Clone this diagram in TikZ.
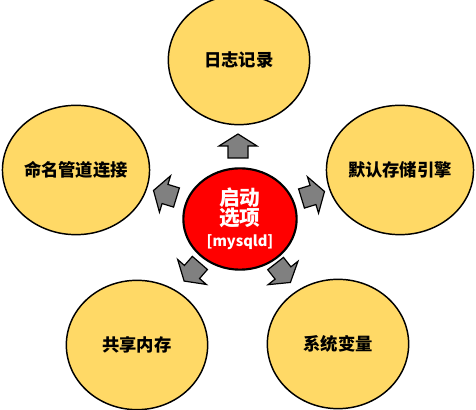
\documentclass[tikz,border=0pt]{standalone}
\usepackage{fontspec}
\newfontfamily\cjk{Noto Sans CJK SC}
\usetikzlibrary{shapes.geometric}
\definecolor{optyellow}{RGB}{255,217,102}
\definecolor{optred}{RGB}{255,0,0}
\definecolor{optgray}{RGB}{128,128,128}

\begin{document}
\begin{tikzpicture}[x=0.75pt, y=0.75pt,
    leaf/.style={ellipse, draw=black, line width=1.1pt, fill=optyellow,
      minimum width=106pt, minimum height=97pt, inner sep=0pt,
      font=\cjk\bfseries\fontsize{13}{15}\selectfont},
    hub/.style={ellipse, draw=black, line width=1.6pt, fill=optred,
      minimum width=85pt, minimum height=76pt, inner sep=0pt,
      text=white, align=center, font=\cjk\bfseries\fontsize{15.5}{17}\selectfont},
    blockarrow/.pic={
      \draw[black, line width=0.9pt, fill=optgray, line join=miter]
        (-12,-10) -- (0,-10) -- (0,-19) -- (12,0) -- (0,19) -- (0,10) -- (-12,10) -- cycle;
    }]
  \useasboundingbox (0,0) rectangle (476,410);

  % centre
  \node[hub] (opts) at (240,191) {启动\\[-2pt]选项\\[-1pt]{\fontsize{11}{12}\selectfont [mysqld]}};

  % options around it
  \node[leaf] (log)   at (239,350) {日志记录};
  \node[leaf] (pipe)  at (76,240)  {命名管道连接};
  \node[leaf] (eng)   at (400,240) {默认存储引擎};
  \node[leaf] (shm)   at (137,65)  {共享内存};
  \node[leaf] (vars)  at (338,66)  {系统变量};

  % block arrows
  \pic[rotate=90]  at (238,264) {blockarrow};
  \pic[rotate=163] at (165,216) {blockarrow};
  \pic[rotate=17]  at (313,215) {blockarrow};
  \pic[rotate=229] at (192,138) {blockarrow};
  \pic[rotate=308] at (283,137) {blockarrow};
\end{tikzpicture}
\end{document}
